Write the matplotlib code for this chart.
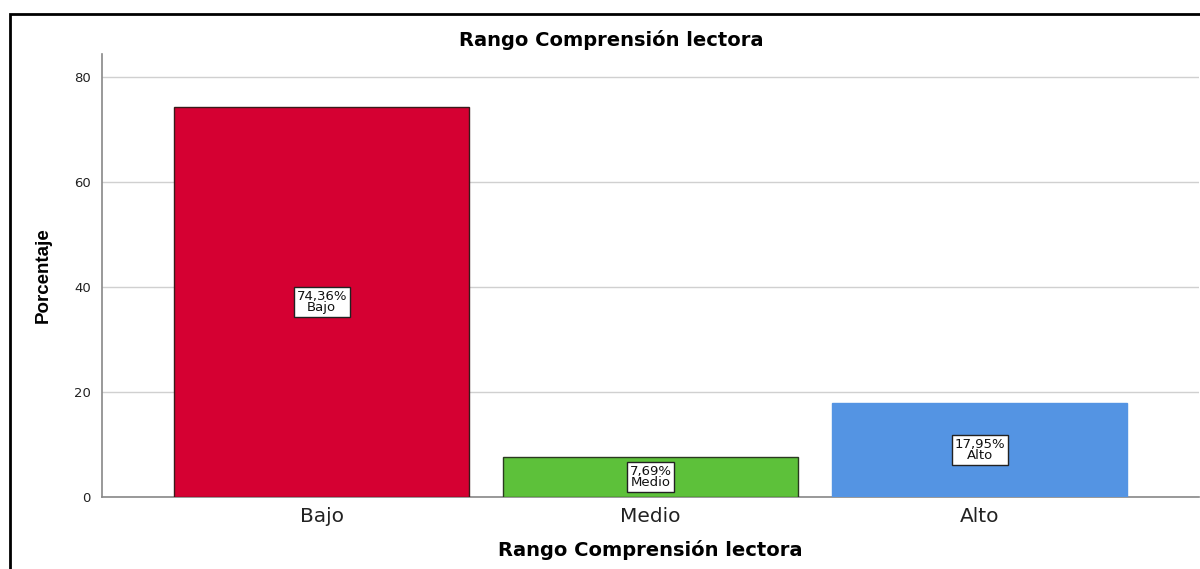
import matplotlib
matplotlib.use('Agg')
import matplotlib.pyplot as plt
from matplotlib.patches import Rectangle

plt.rcParams['font.family'] = ['DejaVu Sans']

# datos
categorias = ['Bajo', 'Medio', 'Alto']
porcentajes = [74.36, 7.69, 17.95]
etiquetas = ['74,36%\nBajo', '7,69%\nMedio', '17,95%\nAlto']
colores = ['#D50032', '#5DC13A', '#5494E3']
bordes = ['#3a1a1a', '#2a3a20', '#5494E3']

fig = plt.figure(figsize=(12, 5.69), dpi=100)
ax = fig.add_axes([102/1200, 1-497/569, 1097/1200, (497-54)/569])

x = range(len(categorias))
ax.bar(x, porcentajes, width=0.898, color=colores, edgecolor=bordes, linewidth=1, zorder=3)

for i, (v, t) in enumerate(zip(porcentajes, etiquetas)):
    ax.text(i, v/2, t, ha='center', va='center', fontsize=9.5, linespacing=0.85, zorder=4,
            color='#111111',
            bbox=dict(boxstyle='square,pad=0.2', facecolor='white', edgecolor='#222222', linewidth=1))

ax.set_xlim(-0.668, 2.667)
ax.set_ylim(0, 84.4)
ax.set_yticks([0, 20, 40, 60, 80])
ax.set_xticks(list(x))
ax.set_xticklabels(categorias, fontsize=14.5, color='#222222')
ax.tick_params(axis='y', length=0, pad=8, labelsize=9.5, labelcolor='#222222')
ax.tick_params(axis='x', length=0, pad=7)
ax.grid(axis='y', color='#d0d0d0', linewidth=1, zorder=0)
for s in ['top', 'right']:
    ax.spines[s].set_visible(False)
for s in ['left', 'bottom']:
    ax.spines[s].set_color('#888888')
    ax.spines[s].set_linewidth(1.2)

ax.set_xlabel('Rango Comprensión lectora', fontsize=14, fontweight='bold', labelpad=10)
ax.set_ylabel('Porcentaje', fontsize=13.5, fontweight='bold', labelpad=16,
              family=['Liberation Sans', 'DejaVu Sans'])
fig.text(611/1200, 1-40/569, 'Rango Comprensión lectora', ha='center', va='center',
         fontsize=14, fontweight='bold')

# marco exterior
fig.patches.append(Rectangle((10/1200, -0.1), 1.2, 1-14/569+0.1, transform=fig.transFigure,
                             fill=False, edgecolor='black', linewidth=2, clip_on=False))

plt.savefig('out.png', dpi=100)
